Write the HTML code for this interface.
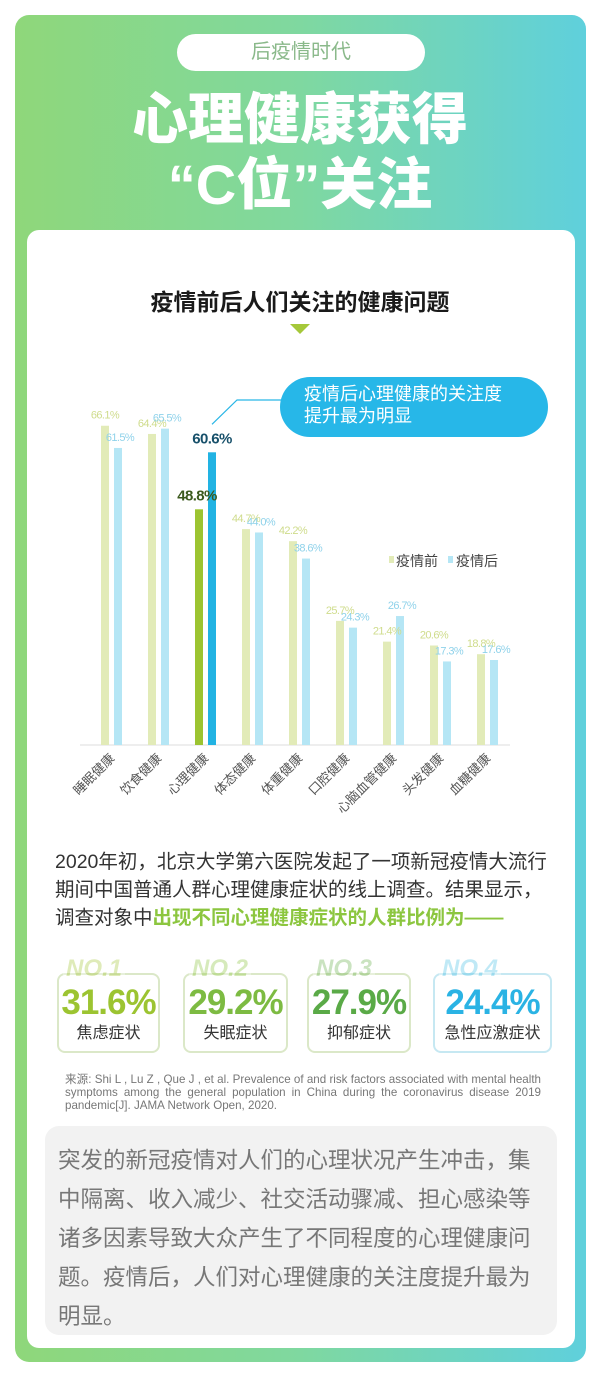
<!DOCTYPE html>
<html><head><meta charset="utf-8">
<style>
*{margin:0;padding:0;box-sizing:border-box}
body{width:600px;height:1391px;background:#fff;position:relative;overflow:hidden;font-family:"Liberation Sans","Noto Sans CJK SC",sans-serif}
.abs{position:absolute}
#outer{left:15px;top:15px;width:571px;height:1347px;border-radius:14px;background:linear-gradient(90deg,#8fd77a 0%,#7fd8a0 50%,#5fd0dc 100%)}
#inner{left:27px;top:230px;width:548px;height:1118px;border-radius:12px;background:#fff}
#pill{left:177px;top:34px;width:248px;height:37px;border-radius:19px;background:#fff;color:#8ab98a;font-size:20px;text-align:center;line-height:37px}
.title{left:0;width:600px;text-align:center;color:#fff;font-weight:900;font-size:56px;line-height:64px}
#ctitle{left:0;width:600px;top:283px;text-align:center;font-size:23px;font-weight:bold;color:#1a1a1a}
#tri{left:290px;top:324px;width:0;height:0;border-left:10px solid transparent;border-right:10px solid transparent;border-top:10px solid #a5c83a}
#para{left:55px;top:848px;width:500px;font-size:19.5px;line-height:28px;color:#333}
#para b{color:#8cc63f}
.card{top:973px;height:80px;border:2px solid #dbe8c8;border-radius:8px;text-align:center}
.card .no{position:absolute;top:-20px;left:4px;font-size:24px;font-weight:bold;font-style:italic;background:#fff;padding:0 3px;opacity:.35}
.card .v{margin-top:8px;font-size:35px;font-weight:bold;line-height:40px;letter-spacing:-1px}
.card .l{font-size:16px;color:#333;line-height:22px}
#src{left:65px;top:1073px;width:476px;font-size:11.6px;line-height:13px;color:#777;text-align:justify}
#grey{left:45px;top:1126px;width:512px;height:209px;border-radius:14px;background:#f2f2f2}
#gtext{left:58px;top:1141px;width:490px;font-size:22.5px;line-height:39px;color:#777}
</style></head><body>
<div id="outer" class="abs"></div>
<div id="pill" class="abs">后疫情时代</div>
<div class="abs title" style="top:88px">心理健康获得</div>
<div class="abs title" style="top:153px">“C位”关注</div>
<div id="inner" class="abs"></div>
<div id="ctitle" class="abs">疫情前后人们关注的健康问题</div>
<div id="tri" class="abs"></div>
<svg class="abs" style="left:0;top:0" width="600" height="840" id="chart"></svg>
<div id="para" class="abs">2020年初，北京大学第六医院发起了一项新冠疫情大流行期间中国普通人群心理健康症状的线上调查。结果显示，调查对象中<b>出现不同心理健康症状的人群比例为——</b></div>
<div class="abs card" style="left:57px;width:103px"><span class="no" style="color:#a5c83a">NO.1</span><div class="v" style="color:#9cc431">31.6%</div><div class="l">焦虑症状</div></div>
<div class="abs card" style="left:183px;width:105px"><span class="no" style="color:#8cc63f">NO.2</span><div class="v" style="color:#7dbb42">29.2%</div><div class="l">失眠症状</div></div>
<div class="abs card" style="left:307px;width:104px"><span class="no" style="color:#6ab04c">NO.3</span><div class="v" style="color:#5aaa47">27.9%</div><div class="l">抑郁症状</div></div>
<div class="abs card" style="left:433px;width:119px;border-color:#c6e8f2"><span class="no" style="color:#4cc3e6">NO.4</span><div class="v" style="color:#2ab3e4">24.4%</div><div class="l">急性应激症状</div></div>
<div id="src" class="abs">来源: Shi L , Lu Z , Que J , et al. Prevalence of and risk factors associated with mental health symptoms among the general population in China during the coronavirus disease 2019 pandemic[J]. JAMA Network Open, 2020.</div>
<div id="grey" class="abs"></div>
<div id="gtext" class="abs">突发的新冠疫情对人们的心理状况产生冲击，集中隔离、收入减少、社交活动骤减、担心感染等诸多因素导致大众产生了不同程度的心理健康问题。疫情后，人们对心理健康的关注度提升最为明显。</div>
<script>
const categories=["睡眠健康","饮食健康","心理健康","体态健康","体重健康","口腔健康","心脑血管健康","头发健康","血糖健康"];
const before=[66.1,64.4,48.8,44.7,42.2,25.7,21.4,20.6,18.8];
const after=[61.5,65.5,60.6,44.0,38.6,24.3,26.7,17.3,17.6];
const highlightIndex=2;
const NS="http://www.w3.org/2000/svg";
const svg=document.getElementById('chart');
const baseY=745, scale=4.83, x0=105, step=47, bw=8;
const xB=i=>x0+step*i, xA=i=>x0+13+step*i, yv=v=>baseY-v*scale;
function mk(t,a){const e=document.createElementNS(NS,t);for(const k in a)e.setAttribute(k,a[k]);svg.appendChild(e);return e;}
let ax=mk('line',{x1:80,x2:510,y1:baseY,y2:baseY,stroke:'#ddd','stroke-width':1});


categories.forEach((c,i)=>{
  const hi=i===highlightIndex;
  let b=mk('rect',{x:xB(i)-bw/2,y:yv(before[i]),width:bw,height:before[i]*scale,fill:hi?'#9cc431':'#e2ebb8'});
  
  
  let a=mk('rect',{x:xA(i)-bw/2,y:yv(after[i]),width:bw,height:after[i]*scale,fill:hi?'#22b3e3':'#b5e6f5'});
  
  
  let tb=mk('text',{x:xB(i)+(hi?-2:0),y:yv(before[i])-(hi?9:7),'text-anchor':'middle','font-size':hi?15:11,'font-weight':hi?'bold':'normal',fill:hi?'#3c5a1e':'#cfdc8c','letter-spacing':'-0.6'});
  tb.textContent=before[i].toFixed(1)+'%';
  
  
  let ta=mk('text',{x:xA(i)+(hi?0:2),y:yv(after[i])-(hi?9:7),'text-anchor':'middle','font-size':hi?15:11,'font-weight':hi?'bold':'normal',fill:hi?'#17506a':'#8fd2ea','letter-spacing':'-0.6'});
  ta.textContent=after[i].toFixed(1)+'%';
  
  
  const cx=(xB(i)+xA(i))/2+4;
  let lab=mk('text',{x:cx,y:baseY+14,'text-anchor':'end','font-size':13,fill:'#555',transform:`rotate(-45 ${cx} ${baseY+14})`});
  lab.textContent=c;
  
  
});
let ln=mk('polyline',{points:`${xA(highlightIndex)+0},${yv(after[highlightIndex])-28} 237,400 285,400`,fill:'none',stroke:'#29b6e6','stroke-width':1.2});


let bub=mk('rect',{x:280,y:377,width:268,height:60,rx:30,fill:'#27b7e8'});


let t1=mk('text',{x:304,y:400,'font-size':18,fill:'#fff'});t1.textContent='疫情后心理健康的关注度';


let t2=mk('text',{x:304,y:422,'font-size':18,fill:'#fff'});t2.textContent='提升最为明显';


let l1=mk('rect',{x:389,y:556,width:5,height:7,fill:'#e2ebb8'});


let lt1=mk('text',{x:396,y:566,'font-size':14,fill:'#444'});lt1.textContent='疫情前';


let l2=mk('rect',{x:448,y:556,width:5,height:7,fill:'#b5e6f5'});


let lt2=mk('text',{x:456,y:566,'font-size':14,fill:'#444'});lt2.textContent='疫情后';


</script>
</body></html>
